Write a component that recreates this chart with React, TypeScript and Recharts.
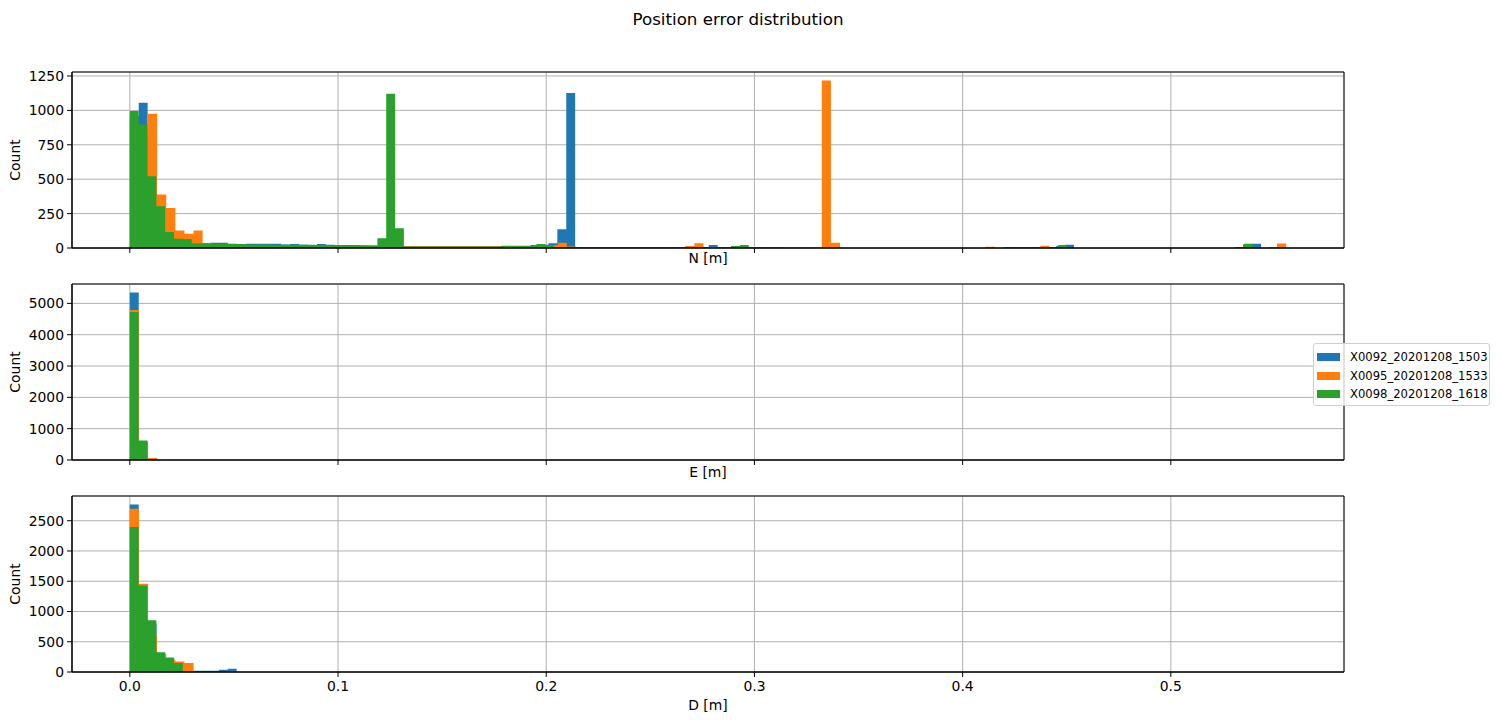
import React from "react";
import { Area, CartesianGrid, ComposedChart, Legend, ReferenceArea, XAxis, YAxis } from "recharts";

const FONT = "'DejaVu Sans', 'Liberation Sans', sans-serif";

// each run was binned on its own: 127 equal bins from 0 to that run's largest error
const BIN_COUNT = 127;
const SERIES = [
  { name: "X0092_20201208_1503", color: "#1f77b4", maxError: 0.5433 },
  { name: "X0095_20201208_1533", color: "#ff7f0e", maxError: 0.5554 },
  { name: "X0098_20201208_1618", color: "#2ca02c", maxError: 0.5393 },
];

const X_TICKS = [0, 0.1, 0.2, 0.3, 0.4, 0.5];
const N_TICKS = [0, 250, 500, 750, 1000, 1250];
const E_TICKS = [0, 1000, 2000, 3000, 4000, 5000];
const D_TICKS = [0, 500, 1000, 1500, 2000, 2500];

// North error counts per bin
const N_X0092 = [
  960, 1056, 560, 290, 200, 95, 70, 45, 35, 39,
  39, 30, 28, 31, 31, 31, 31, 25, 29, 24,
  22, 29, 24, 22, 20, 18, 17, 15, 12, 8,
  8, 8, 8, 8, 7, 7, 7, 7, 7, 7,
  7, 7, 7, 7, 10, 22, 24, 34, 136, 1126,
  4, 4, 4, 4, 4, 4, 4, 4, 4, 4,
  4, 4, 4, 4, 4, 22, 3, 3, 3, 3,
  3, 3, 0, 0, 0, 0, 0, 0, 0, 0,
  0, 0, 0, 0, 0, 0, 0, 0, 0, 0,
  0, 0, 0, 0, 0, 0, 0, 0, 0, 0,
  0, 0, 0, 0, 15, 24, 0, 0, 0, 0,
  0, 0, 0, 0, 0, 0, 0, 0, 0, 0,
  0, 0, 0, 0, 0, 25, 31,
];
const N_X0095 = [
  900, 850, 976, 388, 291, 128, 104, 128, 34, 25,
  22, 20, 20, 18, 18, 18, 18, 18, 18, 22,
  18, 22, 16, 16, 22, 16, 14, 14, 14, 15,
  15, 15, 15, 15, 15, 15, 15, 15, 15, 15,
  15, 15, 15, 15, 15, 15, 20, 39, 10, 5,
  5, 5, 5, 5, 5, 5, 5, 5, 5, 5,
  5, 14, 34, 5, 5, 5, 5, 5, 5, 5,
  5, 5, 5, 5, 5, 5, 1218, 39, 0, 0,
  0, 0, 0, 0, 0, 0, 0, 0, 0, 0,
  0, 0, 0, 0, 9, 0, 5, 7, 7, 5,
  16, 0, 0, 0, 0, 0, 0, 0, 0, 0,
  0, 0, 0, 0, 0, 0, 0, 0, 0, 0,
  0, 0, 0, 0, 0, 7, 33,
];
const N_X0098 = [
  995, 898, 521, 303, 117, 68, 65, 34, 34, 30,
  30, 29, 29, 26, 25, 25, 24, 24, 24, 24,
  23, 22, 22, 22, 22, 21, 20, 20, 70, 1121,
  143, 10, 10, 10, 10, 10, 10, 10, 10, 10,
  10, 10, 17, 17, 17, 17, 29, 20, 5, 5,
  5, 5, 5, 5, 5, 5, 5, 5, 5, 5,
  5, 5, 5, 5, 5, 5, 5, 5, 14, 22,
  3, 3, 3, 3, 0, 0, 0, 0, 0, 0,
  0, 0, 0, 0, 0, 0, 0, 0, 0, 0,
  0, 0, 0, 0, 0, 0, 0, 0, 0, 7,
  5, 5, 7, 0, 7, 22, 0, 0, 0, 0,
  0, 0, 0, 0, 0, 0, 0, 0, 0, 0,
  0, 0, 0, 0, 0, 7, 31,
];

// East error counts (all runs stay within the first bins)
const E_X0092 = [5351, 560, 40];
const E_X0095 = [4792, 590, 64];
const E_X0098 = [4728, 626, 12];

// Down error counts
const D_X0092 = [2770, 1400, 800, 300, 220, 120, 0, 21, 21, 21, 38, 54];
const D_X0095 = [2698, 1459, 600, 300, 200, 174, 148];
const D_X0098 = [2398, 1431, 857, 328, 239, 148];

const WIDTH = 1502;
const PLOT_LEFT = 72;
const PLOT_RIGHT = 1344;
const PLOT_HEIGHT = 176;
const MARGIN_TOP = 4;
const MARGIN_BOTTOM = 8; // room for descenders of the axis label

const X_MAX = Math.max(...SERIES.map((s) => s.maxError));
const X_DOMAIN: [number, number] = [-0.05 * X_MAX, 1.05 * X_MAX];

function histogramPoints(counts: number[], binWidth: number) {
  const pts = counts.map((count, k) => ({ x: k * binWidth, count }));
  // closing edge so the last bin gets its full width
  pts.push({ x: counts.length * binWidth, count: counts[counts.length - 1] });
  return pts;
}

function LegendBox() {
  return (
    <div
      style={{
        width: 175,
        height: 57,
        border: "1px solid #d0d0d0",
        borderRadius: 3,
        background: "rgba(255,255,255,0.8)",
        fontFamily: FONT,
        fontSize: 11.6,
        color: "#000",
        boxSizing: "content-box",
        paddingTop: 4,
      }}
    >
      {SERIES.map((s) => (
        <div key={s.name} style={{ display: "flex", alignItems: "center", height: 18.4 }}>
          <span style={{ display: "inline-block", width: 23, height: 8, marginLeft: 3, marginRight: 10, background: s.color }} />
          <span>{s.name}</span>
        </div>
      ))}
    </div>
  );
}

type PanelProps = {
  top: number;
  counts: number[][];
  yTicks: number[];
  axisLabel: string;
  axisHeight: number;
  tickLabels: boolean;
  legend?: boolean;
};

function HistPanel({ top, counts, yTicks, axisLabel, axisHeight, tickLabels, legend }: PanelProps) {
  const yMax = 1.05 * Math.max(...counts.flat());
  const textStyle = { fill: "#000", fontSize: 13.9, fontFamily: FONT };
  return (
    <div style={{ position: "absolute", left: 0, top: top - MARGIN_TOP }}>
      <ComposedChart
        width={WIDTH}
        height={MARGIN_TOP + PLOT_HEIGHT + axisHeight + MARGIN_BOTTOM}
        margin={{ top: MARGIN_TOP, right: WIDTH - PLOT_RIGHT, bottom: MARGIN_BOTTOM, left: 0 }}
      >
        <XAxis
          type="number"
          dataKey="x"
          domain={X_DOMAIN}
          ticks={X_TICKS}
          allowDataOverflow
          height={axisHeight}
          stroke="#000"
          tickSize={5}
          tickMargin={4}
          tick={textStyle}
          tickFormatter={(v: number) => (tickLabels ? v.toFixed(1) : "")}
          label={{ value: axisLabel, position: "insideBottom", offset: 0, ...textStyle }}
        />
        <YAxis
          type="number"
          width={PLOT_LEFT}
          domain={[0, yMax]}
          ticks={yTicks}
          allowDataOverflow
          stroke="#000"
          tickSize={5}
          tickMargin={3}
          tick={textStyle}
          label={{ value: "Count", angle: -90, position: "insideLeft", offset: 15, ...textStyle, style: { textAnchor: "middle" } }}
        />
        {SERIES.map((s, i) => (
          <Area
            key={s.name}
            name={s.name}
            data={histogramPoints(counts[i], s.maxError / BIN_COUNT)}
            dataKey="count"
            type="stepAfter"
            fill={s.color}
            fillOpacity={1}
            stroke="none"
            dot={false}
            activeDot={false}
            isAnimationActive={false}
          />
        ))}
        <CartesianGrid stroke="#b0b0b0" strokeWidth={1} />
        <ReferenceArea x1={X_DOMAIN[0]} x2={X_DOMAIN[1]} y1={0} y2={yMax} fill="none" stroke="#000" strokeWidth={1} />
        {legend && (
          <Legend
            layout="vertical"
            align="center"
            verticalAlign="middle"
            wrapperStyle={{ left: 1313, top: 343 - (top - MARGIN_TOP), width: 177, height: 59 }}
            content={() => <LegendBox />}
          />
        )}
      </ComposedChart>
    </div>
  );
}

export default function App() {
  return (
    <div
      style={{
        position: "absolute",
        left: 0,
        top: 0,
        width: WIDTH,
        height: 720,
        background: "#fff",
        fontFamily: FONT,
        overflow: "hidden",
      }}
    >
      <div
        style={{
          position: "absolute",
          left: 0,
          width: 1476,
          top: 8,
          textAlign: "center",
          fontSize: 16.7,
          lineHeight: "22px",
          color: "#000",
        }}
      >
        Position error distribution
      </div>
      <HistPanel top={72} counts={[N_X0092, N_X0095, N_X0098]} yTicks={N_TICKS} axisLabel="N [m]" axisHeight={15} tickLabels={false} />
      <HistPanel top={284} counts={[E_X0092, E_X0095, E_X0098]} yTicks={E_TICKS} axisLabel="E [m]" axisHeight={17} tickLabels={false} legend />
      <HistPanel top={496} counts={[D_X0092, D_X0095, D_X0098]} yTicks={D_TICKS} axisLabel="D [m]" axisHeight={38} tickLabels />
    </div>
  );
}
